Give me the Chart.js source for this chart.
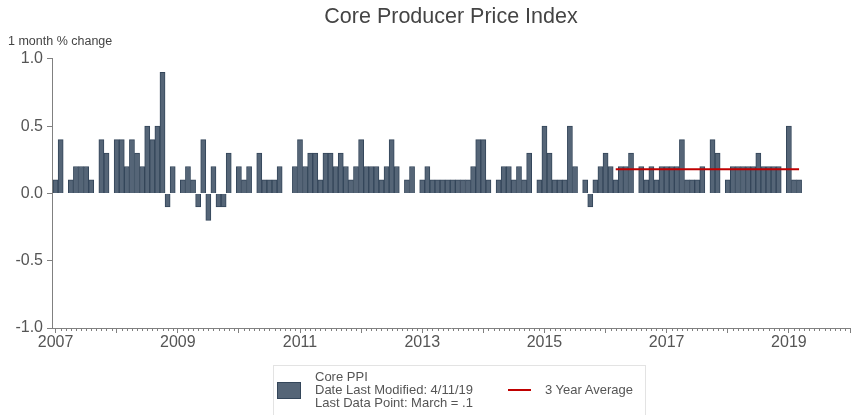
<!DOCTYPE html>
<html>
<head>
<meta charset="utf-8">
<script src="https://cdn.jsdelivr.net/npm/chart.js@4.4.1/dist/chart.umd.min.js"></script>
<style>
  html, body { margin: 0; padding: 0; background: #fff; }
  #wrap { position: relative; width: 861px; height: 415px; font-family: "Liberation Sans", Arial, sans-serif; }
  #legend { position: absolute; left: 273px; top: 365px; width: 373px; height: 60px; box-sizing: border-box;
            border: 1px solid #e3e3e3; color: #555; font-size: 13px; line-height: 13px; }
  #legend .swatch { position: absolute; left: 3px; top: 16px; width: 24px; height: 17px; box-sizing: border-box;
                    background: #556577; border: 1px solid #34465a; }
  #legend .txt { position: absolute; left: 41px; top: 4px; white-space: nowrap; }
  #legend .redline { position: absolute; left: 234px; top: 23px; width: 23px; height: 2px; background: #c00000; }
  #legend .avg { position: absolute; left: 271px; top: 17px; white-space: nowrap; }
</style>
</head>
<body>
<div id="wrap">
  <canvas id="chart" width="861" height="415"></canvas>
  <div id="legend">
    <div class="swatch"></div>
    <div class="txt">Core PPI<br>Date Last Modified: 4/11/19<br>Last Data Point: March = .1</div>
    <div class="redline"></div>
    <div class="avg">3 Year Average</div>
  </div>
</div>
<script>
// Valores mensais (% de variação), um vetor por ano
const years = [2007, 2008, 2009, 2010, 2011, 2012, 2013, 2014, 2015, 2016, 2017, 2018, 2019];
const pct2007 = [0.1, 0.4, 0.0, 0.1, 0.2, 0.2, 0.2, 0.1, 0.0, 0.4, 0.3, 0.0];
const pct2008 = [0.4, 0.4, 0.2, 0.4, 0.3, 0.2, 0.5, 0.4, 0.5, 0.9, -0.1, 0.2];
const pct2009 = [0.0, 0.1, 0.2, 0.1, -0.1, 0.4, -0.2, 0.2, -0.1, -0.1, 0.3, 0.0];
const pct2010 = [0.2, 0.1, 0.2, 0.0, 0.3, 0.1, 0.1, 0.1, 0.2, 0.0, 0.0, 0.2];
const pct2011 = [0.4, 0.2, 0.3, 0.3, 0.1, 0.3, 0.3, 0.2, 0.3, 0.2, 0.1, 0.2];
const pct2012 = [0.4, 0.2, 0.2, 0.2, 0.1, 0.2, 0.4, 0.2, 0.0, 0.1, 0.2, 0.0];
const pct2013 = [0.1, 0.2, 0.1, 0.1, 0.1, 0.1, 0.1, 0.1, 0.1, 0.1, 0.2, 0.4];
const pct2014 = [0.4, 0.1, 0.0, 0.1, 0.2, 0.2, 0.1, 0.2, 0.1, 0.3, 0.0, 0.1];
const pct2015 = [0.5, 0.3, 0.1, 0.1, 0.1, 0.5, 0.2, 0.0, 0.1, -0.1, 0.1, 0.2];
const pct2016 = [0.3, 0.2, 0.1, 0.2, 0.2, 0.3, 0.0, 0.2, 0.1, 0.2, 0.1, 0.2];
const pct2017 = [0.2, 0.2, 0.2, 0.4, 0.1, 0.1, 0.1, 0.2, 0.0, 0.4, 0.3, 0.0];
const pct2018 = [0.1, 0.2, 0.2, 0.2, 0.2, 0.2, 0.3, 0.2, 0.2, 0.2, 0.2, 0.0];
const pct2019 = [0.5, 0.1, 0.1];
const pctByYear = [pct2007, pct2008, pct2009, pct2010, pct2011, pct2012, pct2013,
                   pct2014, pct2015, pct2016, pct2017, pct2018, pct2019];

// Média de 3 anos (linha vermelha)
const avgValue = 0.18;
const avgStart = [2016, 3];
const avgEnd = [2019, 3];

// Rótulos do eixo x (só anos ímpares) e ticks do eixo y
const labeledYears = [2007, 2009, 2011, 2013, 2015, 2017, 2019];
const yTicks = [-1.0, -0.5, 0.0, 0.5, 1.0];

// Mês -> índice no eixo linear (0 = jan/2007)
function monthIndex(year, month) {
  return (year - years[0]) * 12 + (month - 1);
}

const barPoints = [];
years.forEach((yr, k) => {
  pctByYear[k].forEach((v, m) => barPoints.push({ x: monthIndex(yr, m + 1), y: v }));
});

const avgPoints = [
  { x: monthIndex(avgStart[0], avgStart[1]), y: avgValue },
  { x: monthIndex(avgEnd[0], avgEnd[1]), y: avgValue }
];

const axisGray = '#808080';
const xMax = monthIndex(2020, 1);

// Ticks menores (mensais) no eixo x
const minorTicks = {
  id: 'minorTicks',
  afterDraw(chart) {
    const xs = chart.scales.x;
    const ctx = chart.ctx;
    const y0 = chart.chartArea.bottom;
    ctx.save();
    ctx.strokeStyle = axisGray;
    ctx.lineWidth = 1;
    ctx.beginPath();
    for (let m = 0; m <= xMax; m++) {
      if (m % 12 === 0) continue;
      const px = Math.round(xs.getPixelForValue(m)) + 0.5;
      ctx.moveTo(px, y0);
      ctx.lineTo(px, y0 + 3);
    }
    ctx.stroke();
    ctx.restore();
  }
};

Chart.defaults.font.family = '"Liberation Sans", Arial, sans-serif';

new Chart(document.getElementById('chart'), {
  type: 'bar',
  data: {
    datasets: [
      {
        type: 'line',
        label: '3 Year Average',
        data: avgPoints,
        borderColor: '#c00000',
        borderWidth: 2,
        pointRadius: 0,
        fill: false,
        order: 0
      },
      {
        type: 'bar',
        label: 'Core PPI',
        data: barPoints,
        backgroundColor: '#556577',
        borderColor: '#34465a',
        borderWidth: 1,
        barPercentage: 1.0,
        categoryPercentage: 1.0,
        order: 1
      }
    ]
  },
  options: {
    responsive: false,
    animation: false,
    events: [],
    layout: { padding: { left: 8, right: 11, top: 0, bottom: 63 } },
    plugins: {
      legend: { display: false },
      tooltip: { enabled: false },
      title: {
        display: true,
        text: 'Core Producer Price Index',
        fullSize: false,
        color: '#444',
        font: { size: 21.5, weight: 'normal' },
        padding: { top: 4, bottom: 2 }
      },
      subtitle: {
        display: true,
        text: '1 month % change',
        align: 'start',
        color: '#444',
        font: { size: 12.5 },
        padding: { top: 2, bottom: 10 }
      }
    },
    scales: {
      x: {
        type: 'linear',
        min: -0.7,
        max: xMax,
        offset: false,
        afterFit: (scale) => { scale.height = 24; },
        afterBuildTicks: (scale) => {
          const t = [];
          for (let y = years[0]; y <= 2020; y++) t.push({ value: monthIndex(y, 1) });
          scale.ticks = t;
        },
        grid: { display: true, drawOnChartArea: false, drawTicks: true, tickLength: 5, tickColor: axisGray, offset: false },
        border: { display: true, color: axisGray, width: 1 },
        ticks: {
          autoSkip: false,
          maxRotation: 0,
          padding: 0,
          color: '#555',
          font: { size: 16 },
          callback: (v) => {
            const yr = years[0] + Math.round(v / 12);
            return labeledYears.includes(yr) ? String(yr) : '';
          }
        }
      },
      y: {
        min: -1,
        max: 1,
        afterFit: (scale) => { scale.width = 44; },
        afterBuildTicks: (scale) => { scale.ticks = yTicks.map(v => ({ value: v })); },
        grid: { display: true, drawOnChartArea: false, drawTicks: true, tickLength: 5, tickColor: axisGray },
        border: { display: true, color: axisGray, width: 1 },
        ticks: {
          padding: 4,
          color: '#555',
          font: { size: 16 },
          callback: (v) => Number(v).toFixed(1)
        }
      }
    }
  },
  plugins: [minorTicks]
});
</script>
</body>
</html>
